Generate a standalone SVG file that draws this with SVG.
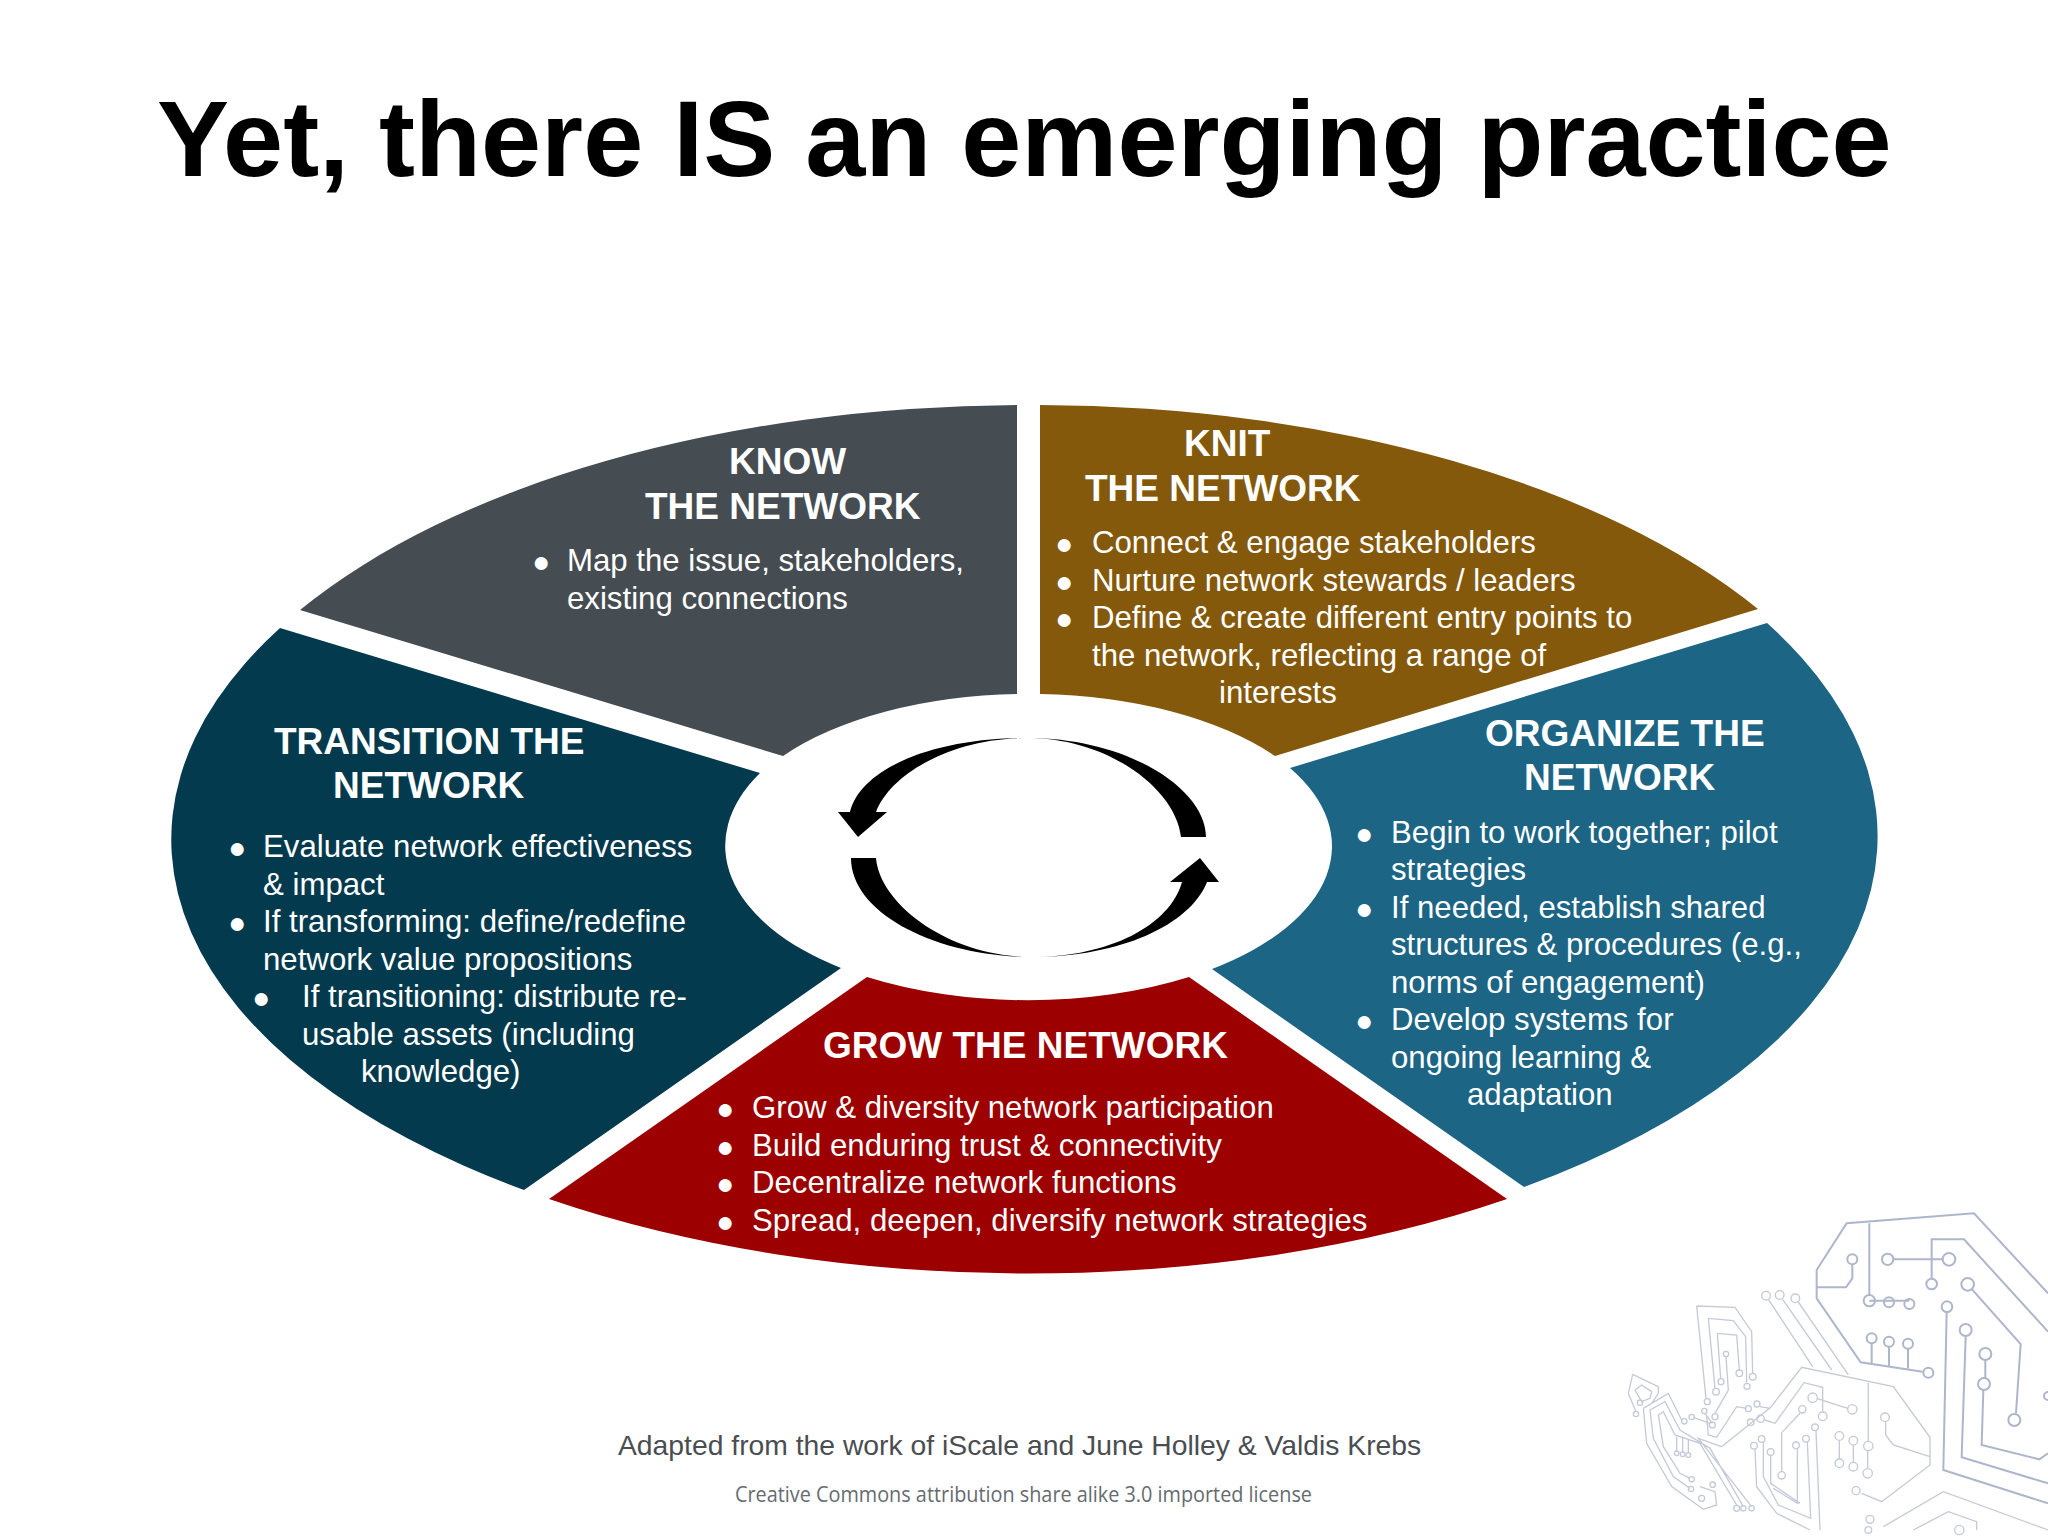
<svg xmlns="http://www.w3.org/2000/svg" width="2048" height="1536" viewBox="0 0 2048 1536">
<style>
text{font-family:"Liberation Sans",Arial,sans-serif;fill:#fff}
.h{font-size:37px;font-weight:700}
.b{font-size:31.2px}
.d{font-size:30px}
.title{font-size:108px;font-weight:700;fill:#000}
.c1{fill:none;stroke:#aeb6cc;stroke-width:6}
.c2{fill:none;stroke:#c4cad8;stroke-width:4}
</style>
<rect width="2048" height="1536" fill="#fff"/>
<g id="circuit-decoration" transform="translate(1600 1190) scale(.33333)">
<path class="c1" d="M1344 310L1122 70L740 100L650 240V325L782 517L968 545M650 292H738L757 265V225M808 100V315M808 332H928M880 208H1030M995 265V148H1092L1344 425M1116 298L1262 462L1248 670M1040 368L1030 840L1344 940M1097 440L1085 802L1344 880M1156 510V565M1150 600L1145 765L1318 808L1344 790M815 460V520M867 470V528M924 476V535"/>
<g class="c1"><circle cx="985" cy="548" r="15"/><circle cx="757" cy="208" r="15"/><circle cx="808" cy="332" r="17"/><circle cx="867" cy="337" r="15"/><circle cx="928" cy="342" r="15"/><circle cx="863" cy="208" r="17"/><circle cx="1047" cy="208" r="19"/><circle cx="995" cy="282" r="16"/><circle cx="1103" cy="283" r="19"/><circle cx="1243" cy="690" r="18"/><circle cx="1041" cy="350" r="16"/><circle cx="1097" cy="420" r="18"/><circle cx="1156" cy="492" r="18"/><circle cx="1152" cy="582" r="18"/><circle cx="1344" cy="618" r="12"/><circle cx="815" cy="445" r="15"/><circle cx="867" cy="455" r="15"/><circle cx="924" cy="461" r="15"/></g>
<path class="c2" d="M505 328L638 530M548 328L695 540M595 336L745 555M365 770L512 652L605 532L880 590L990 742V825L845 935L785 910M805 578V755M803 782V836M718 752V806M760 766V816M857 696V735L880 765L990 800M652 626L743 655M668 665V592L612 578L525 700L495 690M600 670L545 728V845M648 722L660 1020M622 756L632 985L535 945L490 860V755M592 776V940L520 895M512 796V880L600 940M465 778L470 890L530 970L630 1020M290 348L405 352L455 425L458 550M290 348L318 625M325 385L400 392L437 440L440 578M325 385L345 595M352 430L410 435L418 540M352 430L362 565M378 500L385 600L345 670M315 670L337 700M282 683L330 700M320 680L325 735L350 742L410 650L440 655M480 650L510 655M98 553L175 590V610L155 640M98 553L85 610L108 665M105 600L125 585L155 605L150 625L125 635ZM130 655L205 610L245 690M130 655L140 760L215 890L310 958L350 945L345 905L300 890M150 660L195 635L240 720L330 775L430 950M175 675L190 665L225 735L300 760L410 945M175 675L190 770L240 850L270 865M150 660L160 745L220 860L270 895M365 770L295 745L455 950M230 740V785M248 745V788M265 750V790M850 1010L1030 905L1344 1020M940 1020L1045 965L1130 995V1020"/>
<g class="c2"><circle cx="498" cy="317" r="13"/><circle cx="539" cy="315" r="13"/><circle cx="586" cy="325" r="13"/><circle cx="768" cy="902" r="12"/><circle cx="805" cy="768" r="14"/><circle cx="803" cy="850" r="14"/><circle cx="718" cy="738" r="13"/><circle cx="718" cy="820" r="13"/><circle cx="760" cy="752" r="13"/><circle cx="760" cy="830" r="13"/><circle cx="855" cy="682" r="13"/><circle cx="638" cy="623" r="14"/><circle cx="757" cy="658" r="14"/><circle cx="668" cy="679" r="13"/><circle cx="482" cy="686" r="11"/><circle cx="452" cy="697" r="10"/><circle cx="607" cy="658" r="11"/><circle cx="545" cy="856" r="11"/><circle cx="645" cy="712" r="10"/><circle cx="618" cy="746" r="10"/><circle cx="485" cy="747" r="10"/><circle cx="588" cy="766" r="10"/><circle cx="512" cy="786" r="10"/><circle cx="462" cy="767" r="10"/><circle cx="458" cy="560" r="10"/><circle cx="322" cy="635" r="9"/><circle cx="441" cy="589" r="9"/><circle cx="348" cy="605" r="10"/><circle cx="418" cy="550" r="10"/><circle cx="363" cy="575" r="9"/><circle cx="378" cy="492" r="8"/><circle cx="345" cy="680" r="9"/><circle cx="313" cy="663" r="8"/><circle cx="337" cy="705" r="9"/><circle cx="275" cy="681" r="8"/><circle cx="253" cy="694" r="8"/><circle cx="445" cy="656" r="9"/><circle cx="471" cy="642" r="9"/><circle cx="108" cy="672" r="8"/><circle cx="120" cy="638" r="8"/><circle cx="275" cy="868" r="8"/><circle cx="273" cy="897" r="8"/><circle cx="230" cy="790" r="7"/><circle cx="248" cy="793" r="7"/><circle cx="265" cy="795" r="7"/><circle cx="305" cy="925" r="9"/><circle cx="338" cy="884" r="8"/><circle cx="410" cy="955" r="9"/><circle cx="430" cy="955" r="8"/><circle cx="455" cy="955" r="8"/><circle cx="810" cy="988" r="12"/><circle cx="805" cy="1020" r="10"/><circle cx="1078" cy="1020" r="14"/></g>
</g>
<text class="title" x="157" y="176">Yet, there IS an emerging practice</text>
<g id="know">
<path fill="#454c52" d="M1017 405V694A304 153 0 0 0 783 756L300 610A854 433 0 0 1 1017 405Z"/>
<text class="h" x="729" y="474">KNOW</text>
<text class="h" x="645" y="519">THE NETWORK</text>
<text class="d" x="532" y="572">●</text>
<text class="b" x="567" y="571">Map the issue, stakeholders,</text>
<text class="b" x="567" y="609">existing connections</text>
</g>
<g id="knit">
<path fill="#85590c" d="M1040 405A854 433 0 0 1 1758 609L1275 756A304 153 0 0 0 1040 694Z"/>
<text class="h" x="1184" y="456">KNIT</text>
<text class="h" x="1085" y="501">THE NETWORK</text>
<text class="d" x="1055" y="554">●</text>
<text class="b" x="1092" y="553">Connect &amp; engage stakeholders</text>
<text class="d" x="1055" y="592">●</text>
<text class="b" x="1092" y="591">Nurture network stewards / leaders</text>
<text class="d" x="1055" y="629">●</text>
<text class="b" x="1092" y="628">Define &amp; create different entry points to</text>
<text class="b" x="1092" y="666">the network, reflecting a range of</text>
<text class="b" x="1219" y="703">interests</text>
</g>
<g id="organize">
<path fill="#1c6585" d="M1767 623A854 433 0 0 1 1524 1187L1212 969A298 153 0 0 0 1290 768Z"/>
<text class="h" x="1485" y="746">ORGANIZE THE</text>
<text class="h" x="1524" y="790">NETWORK</text>
<text class="d" x="1355" y="844">●</text>
<text class="b" x="1391" y="843">Begin to work together; pilot</text>
<text class="b" x="1391" y="880">strategies</text>
<text class="d" x="1355" y="919">●</text>
<text class="b" x="1391" y="918">If needed, establish shared</text>
<text class="b" x="1391" y="955">structures &amp; procedures (e.g.,</text>
<text class="b" x="1391" y="993">norms of engagement)</text>
<text class="d" x="1355" y="1031">●</text>
<text class="b" x="1391" y="1030">Develop systems for</text>
<text class="b" x="1391" y="1068">ongoing learning &amp;</text>
<text class="b" x="1467" y="1105">adaptation</text>
</g>
<g id="grow">
<path fill="#9c0000" d="M1189 977L1507 1199A854 433 0 0 1 549 1199L867 977A304 153 0 0 0 1189 977Z"/>
<text class="h" x="823" y="1058">GROW THE NETWORK</text>
<text class="d" x="716" y="1119">●</text>
<text class="b" x="752" y="1118">Grow &amp; diversity network participation</text>
<text class="d" x="716" y="1157">●</text>
<text class="b" x="752" y="1156">Build enduring trust &amp; connectivity</text>
<text class="d" x="716" y="1194">●</text>
<text class="b" x="752" y="1193">Decentralize network functions</text>
<text class="d" x="716" y="1232">●</text>
<text class="b" x="752" y="1231">Spread, deepen, diversify network strategies</text>
</g>
<g id="transition">
<path fill="#033a4e" d="M280 628L760 773A290 153 0 0 0 841 968L524 1190A854 433 0 0 1 280 628Z"/>
<text class="h" x="274" y="754">TRANSITION THE</text>
<text class="h" x="333" y="798">NETWORK</text>
<text class="d" x="228" y="858">●</text>
<text class="b" x="263" y="857">Evaluate network effectiveness</text>
<text class="b" x="263" y="895">&amp; impact</text>
<text class="d" x="228" y="933">●</text>
<text class="b" x="263" y="932">If transforming: define/redefine</text>
<text class="b" x="263" y="970">network value propositions</text>
<text class="d" x="252" y="1008">●</text>
<text class="b" x="302" y="1007">If transitioning: distribute re-</text>
<text class="b" x="302" y="1045">usable assets (including</text>
<text class="b" x="361" y="1082">knowledge)</text>
</g>
<g id="connectors" fill="#000">
<path d="M1206 837H1181C1176 790 1110 738 1027 738C1130 738 1206 790 1206 837Z"/>
<path d="M1027 738C930 738 860 770 850 812H838L858 837L887 812H876C890 775 950 738 1027 738Z"/>
<path d="M851 858H876C880 905 950 957 1032 957C1110 957 1170 925 1182 882H1170L1200 858L1219 882H1207C1190 925 1120 957 1032 957C940 957 851 915 851 858Z"/>
</g>
<text x="618" y="1455" style="font-size:28.3px;fill:#4a4d52">Adapted from the work of iScale and June Holley &amp; Valdis Krebs</text>
<text x="735" y="1502" textLength="577" lengthAdjust="spacingAndGlyphs" style="font-family:'Open Sans',sans-serif;font-size:21.5px;fill:#666b70">Creative Commons attribution share alike 3.0 imported license</text>
</svg>
